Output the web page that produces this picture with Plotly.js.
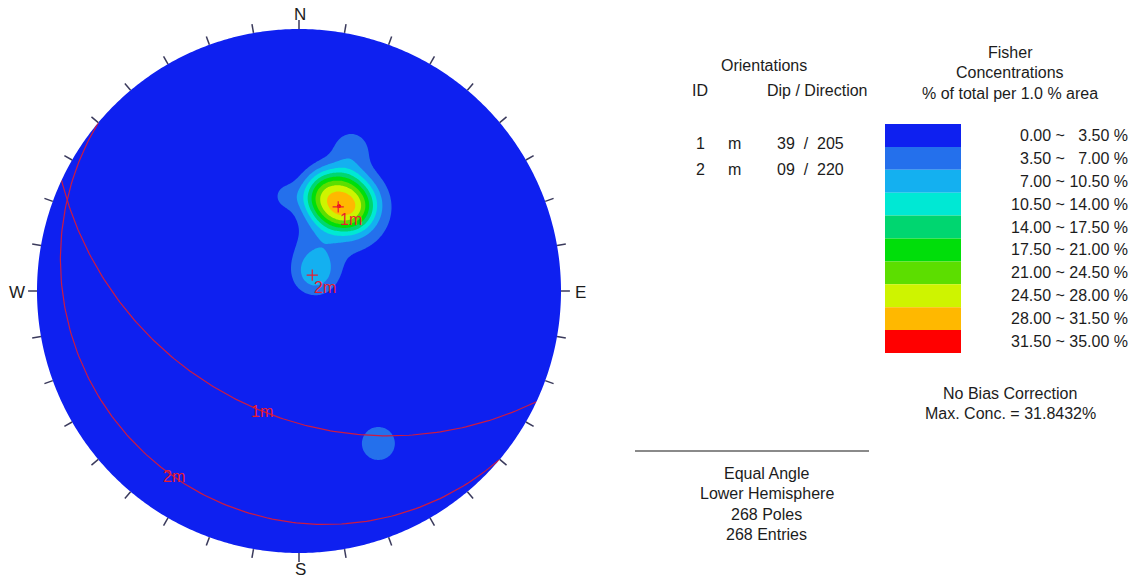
<!DOCTYPE html>
<html>
<head>
<meta charset="utf-8">
<script src="https://cdn.plot.ly/plotly-3.0.1.min.js"></script>
<style>
  html, body { margin: 0; padding: 0; background: #ffffff; }
  #chart { width: 1143px; height: 579px; }
</style>
</head>
<body>
<div id="chart"></div>
<script>
// Mean set planes
const planeId = ['1', '2'];
const planeSet = ['m', 'm'];
const planeDip = [39, 9];
const planeDipDir = [205, 220];

// Pole clusters: centre trend / plunge (deg), peak contribution (%), Fisher spread (deg),
// and for spread-out groups the half-widths of the pole cone across / along plunge (deg)
const clusterTrend  = [24.0, 32.5, 25.0, 351.6, 20.0, 15.2, 41.6, 152.5];
const clusterPlunge = [48.8, 51.6, 51.0, 49.7, 29.7, 68.5, 79.5, 23.6];
const clusterPeak   = [23.5, 7.0, 1.5, 3.5, 4.5, 2.2, 8.8, 5.0];
const clusterSpread = [4.2, 12.0, 1.2, 4.6, 4.9, 8.4, 6.9, 5.8];
const clusterConeT  = [12.8, 0, 0, 0, 0, 0, 0, 0];
const clusterConeP  = [9.8, 0, 0, 0, 0, 0, 0, 0];

// Fisher concentration classes (% of total per 1.0 % area)
const concLevels = [0, 3.5, 7, 10.5, 14, 17.5, 21, 24.5, 28, 31.5, 35];
const concColors = [
  'rgb(14,32,240)', 'rgb(36,112,236)', 'rgb(20,176,240)', 'rgb(0,232,212)',
  'rgb(0,214,112)', 'rgb(0,222,10)', 'rgb(92,222,0)', 'rgb(206,244,0)',
  'rgb(255,184,0)', 'rgb(255,0,0)'
];
const maxConc = 31.8432;
const poleCount = 268;
const entryCount = 268;
const projectionName = 'Equal Angle';
const hemisphereName = 'Lower Hemisphere';
const compassLabels = ['N', 'E', 'S', 'W'];

const D2R = Math.PI / 180;

// ---- geometry helpers (stereonet in unit-disk coordinates, x east, y north) ----
function lineToXY(trend, plunge) {
  const r = Math.tan((90 - plunge) * D2R / 2);          // equal angle projection
  return [r * Math.sin(trend * D2R), r * Math.cos(trend * D2R)];
}
function lineVec(trend, plunge) {
  const t = trend * D2R, p = plunge * D2R;
  return [Math.cos(p) * Math.cos(t), Math.cos(p) * Math.sin(t), Math.sin(p)];
}
function greatCircle(dip, dipDir, step) {
  const a = dipDir * D2R, d = dip * D2R;
  const s = [Math.cos(a - Math.PI / 2), Math.sin(a - Math.PI / 2), 0];
  const dd = [Math.cos(d) * Math.cos(a), Math.cos(d) * Math.sin(a), Math.sin(d)];
  const xs = [], ys = [];
  for (let t = 0; t <= 180 + 1e-9; t += step) {
    const c = Math.cos(t * D2R), sn = Math.sin(t * D2R);
    const v = [c * s[0] + sn * dd[0], c * s[1] + sn * dd[1], c * s[2] + sn * dd[2]];
    const plunge = Math.asin(Math.max(-1, Math.min(1, v[2]))) / D2R;
    const trend = Math.atan2(v[1], v[0]) / D2R;
    const xy = lineToXY(trend, plunge);
    xs.push(xy[0]); ys.push(xy[1]);
  }
  return { x: xs, y: ys };
}
const dot = (a, b) => a[0] * b[0] + a[1] * b[1] + a[2] * b[2];

// ---- clusters as sets of pole directions with a Fisher kernel each ----
const clusters = clusterTrend.map((tr, k) => {
  const pl = clusterPlunge[k];
  const c = lineVec(tr, pl);
  const sig = clusterSpread[k];
  const kap = 1 / Math.pow(sig * D2R, 2);
  const subs = [];
  const cT = clusterConeT[k], cP = clusterConeP[k];
  if (cT > 0 && cP > 0) {
    const t = tr * D2R, p = pl * D2R;
    const et = [-Math.sin(t), Math.cos(t), 0];
    const ep = [Math.sin(p) * Math.cos(t), Math.sin(p) * Math.sin(t), -Math.cos(p)];
    const h = sig * 0.45;
    const nT = Math.ceil(cT / h), nP = Math.ceil(cP / h);
    for (let i = -nT; i <= nT; i++) {
      for (let j = -nP; j <= nP; j++) {
        const a = i * h, b = j * h;
        if ((a / cT) * (a / cT) + (b / cP) * (b / cP) > 1) continue;
        const ta = Math.tan(a * D2R), tb = Math.tan(b * D2R);
        const v = [c[0] + ta * et[0] + tb * ep[0], c[1] + ta * et[1] + tb * ep[1], c[2] + ta * et[2] + tb * ep[2]];
        const L = Math.hypot(v[0], v[1], v[2]);
        subs.push([v[0] / L, v[1] / L, v[2] / L]);
      }
    }
  } else {
    subs.push(c);
  }
  let norm = 0;
  subs.forEach(s => { norm += Math.exp(kap * (Math.abs(dot(s, c)) - 1)); });
  const reach = Math.min(89, Math.max(cT, cP) + 6 * sig) * D2R;
  return { c: c, kap: kap, subs: subs, scale: clusterPeak[k] / norm, cosReach: Math.cos(reach) };
});

// ---- concentration field on a grid over the net ----
const N = 321;
const gx = [], gy = [];
for (let i = 0; i < N; i++) { gx.push(-1.02 + 2.04 * i / (N - 1)); gy.push(-1.02 + 2.04 * i / (N - 1)); }
let rawMax = 0;
const zRaw = gy.map(y => gx.map(x => {
  const r = Math.hypot(x, y);
  const phi = 2 * Math.atan(r);
  const sp = Math.sin(phi);
  const p = [r > 0 ? sp * y / r : 0, r > 0 ? sp * x / r : 0, Math.cos(phi)];
  let v = 0;
  for (const cl of clusters) {
    if (Math.abs(dot(p, cl.c)) < cl.cosReach) continue;
    let s = 0;
    for (const q of cl.subs) s += Math.exp(cl.kap * (Math.abs(dot(p, q)) - 1));
    v += cl.scale * s;
  }
  if (r <= 1 && v > rawMax) rawMax = v;
  return v;
}));
const zScale = maxConc / rawMax;
const z = zRaw.map(row => row.map(v => v * zScale));

// ---- pixel helpers for the page layout ----
const W = 1143, H = 579;
const ML = 6, MR = 551, MT = 3, MB = 5;
const plotW = W - ML - MR, plotH = H - MT - MB;
const CX = 299, CY = 291, R = 262;
const X = px => (px - ML) / plotW;            // paper x
const Y = py => (H - MB - py) / plotH;        // paper y

const textFont = { family: 'Liberation Sans, Arial, sans-serif', size: 16, color: '#1c1c1c' };
const redColor = 'rgb(205,26,66)';
const labelRed = 'rgb(232,28,48)';

const traces = [];
traces.push({
  type: 'contour', x: gx, y: gy, z: z,
  autocontour: false,
  contours: { start: concLevels[1], end: concLevels[concLevels.length - 2], size: concLevels[1] - concLevels[0], coloring: 'fill', showlines: false },
  line: { width: 0, smoothing: 1.0 },
  colorscale: concColors.map((c, i) => [i / (concColors.length - 1), c]),
  showscale: false, hoverinfo: 'skip'
});

// great circles of the set planes
planeDip.forEach((dip, i) => {
  const gc = greatCircle(dip, planeDipDir[i], 1);
  traces.push({ type: 'scatter', mode: 'lines', x: gc.x, y: gc.y,
    line: { color: redColor, width: 1.2 }, hoverinfo: 'skip', showlegend: false });
});

// poles of the set planes
const poleXY = planeDip.map((dip, i) => lineToXY(planeDipDir[i] + 180, 90 - dip));
traces.push({ type: 'scatter', mode: 'markers',
  x: poleXY.map(p => p[0]), y: poleXY.map(p => p[1]),
  marker: { symbol: 'cross-thin', size: 8, line: { color: labelRed, width: 1.2 } },
  hoverinfo: 'skip', showlegend: false });

const shapes = [];
// white mask outside the primitive circle
let mask = 'M -1.4,-1.4 L 1.4,-1.4 L 1.4,1.4 L -1.4,1.4 Z M 1,0';
for (let a = 1; a <= 720; a++) {
  const t = a / 720 * 2 * Math.PI;
  mask += ' L ' + Math.cos(t).toFixed(5) + ',' + Math.sin(t).toFixed(5);
}
mask += ' Z';
shapes.push({ type: 'path', path: mask, xref: 'x', yref: 'y', fillcolor: '#ffffff', line: { width: 0 }, layer: 'above', fillrule: 'evenodd' });

// azimuth ticks every 10 degrees
for (let az = 0; az < 360; az += 10) {
  const s = Math.sin(az * D2R), c = Math.cos(az * D2R);
  shapes.push({ type: 'line', xref: 'x', yref: 'y', x0: s * 1.0, y0: c * 1.0, x1: s * 1.034, y1: c * 1.034,
    line: { color: '#3a3a5c', width: 1.5 }, layer: 'above' });
}

// concentration class swatches
const swTop = 124, swH = 22.9;
concColors.forEach((c, i) => {
  shapes.push({ type: 'rect', xref: 'paper', yref: 'paper',
    x0: X(885), x1: X(961), y0: Y(swTop + i * swH), y1: Y(swTop + (i + 1) * swH),
    fillcolor: c, line: { width: 0 } });
});

// separator line
shapes.push({ type: 'line', xref: 'paper', yref: 'paper', x0: X(635), x1: X(869), y0: Y(451), y1: Y(451),
  line: { color: '#8a8a8a', width: 2 } });

const ann = [];
function txt(text, px, py, xanchor, extra) {
  ann.push(Object.assign({ text: text, xref: 'paper', yref: 'paper', x: X(px), y: Y(py),
    xanchor: xanchor || 'center', yanchor: 'middle', showarrow: false, font: textFont }, extra || {}));
}

// compass labels
const compassPos = [[300, 15], [580, 292], [300, 569], [17, 292]];
compassLabels.forEach((l, i) => txt(l, compassPos[i][0], compassPos[i][1], 'center', { font: Object.assign({}, textFont, { size: 17 }) }));

// great circle labels and pole labels
const redFont = { family: 'Liberation Sans, Arial, sans-serif', size: 16, color: labelRed };
planeDip.forEach((dip, i) => {
  const gc = greatCircle(dip, planeDipDir[i], 1);
  ann.push({ text: planeId[i] + planeSet[i], x: gc.x[84], y: gc.y[84], xref: 'x', yref: 'y',
    showarrow: false, xanchor: 'center', yanchor: 'middle', font: redFont });
  ann.push({ text: planeId[i] + planeSet[i], x: poleXY[i][0], y: poleXY[i][1], xref: 'x', yref: 'y',
    showarrow: false, xanchor: 'left', yanchor: 'top', xshift: 0, yshift: -2, font: redFont });
});

// orientation table
txt('Orientations', 764, 65);
txt('ID', 690, 91, 'left');
txt('Dip / Direction', 765, 91, 'left');
const rowY = [144, 170];
planeId.forEach((id, i) => {
  txt(id, 700, rowY[i]);
  txt(planeSet[i], 734, rowY[i]);
  txt(String(planeDip[i]).padStart(2, '0') + '  /  ' + planeDipDir[i], 811, rowY[i]);
});

// concentration legend
txt('Fisher', 1010, 53);
txt('Concentrations', 1010, 73);
txt('% of total per 1.0 % area', 1010, 93);
concColors.forEach((c, i) => {
  const lo = concLevels[i].toFixed(2), hi = concLevels[i + 1].toFixed(2);
  const pad = hi.length < 5 ? '\u2007' : '';
  txt(lo + ' ~ ' + pad + hi + ' %', 1130, swTop + (i + 0.5) * swH, 'right');
});
txt('No Bias Correction', 1010, 393);
txt('Max. Conc. = ' + maxConc.toFixed(4) + '%', 1010, 413);

// projection summary
txt(projectionName, 767, 473);
txt(hemisphereName, 767, 493);
txt(poleCount + ' Poles', 767, 514);
txt(entryCount + ' Entries', 767, 534);

const layout = {
  width: W, height: H,
  margin: { l: ML, r: MR, t: MT, b: MB, pad: 0 },
  paper_bgcolor: '#ffffff', plot_bgcolor: '#ffffff',
  showlegend: false,
  xaxis: { range: [-(CX - ML) / R, (W - MR - CX) / R], visible: false, fixedrange: true },
  yaxis: { range: [-(H - MB - CY) / R, (CY - MT) / R], visible: false, fixedrange: true },
  shapes: shapes,
  annotations: ann
};

Plotly.newPlot('chart', traces, layout, { displayModeBar: false, staticPlot: true });
</script>
</body>
</html>
